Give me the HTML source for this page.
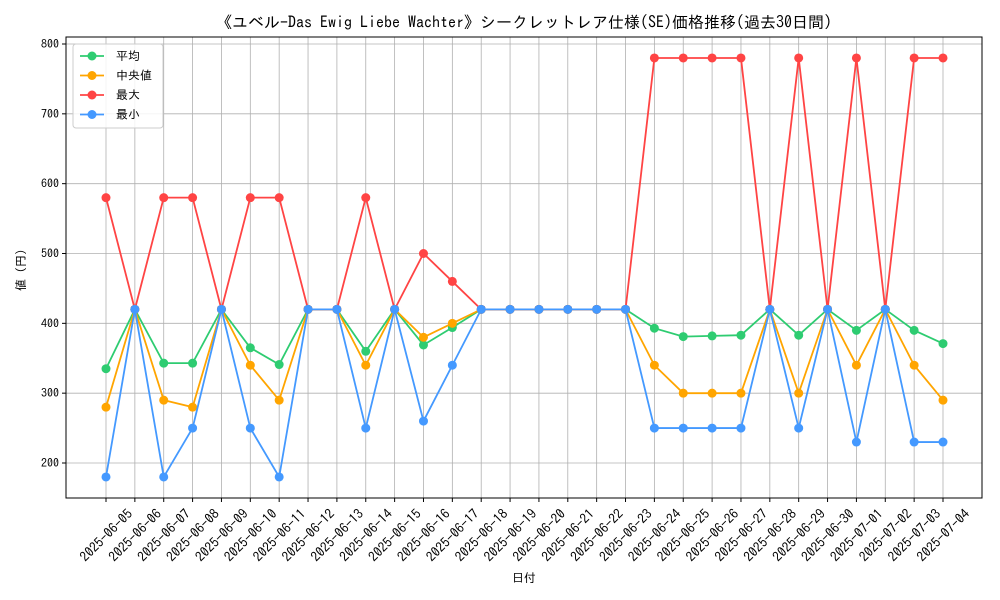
<!DOCTYPE html>
<html><head><meta charset="utf-8">
<style>
body{margin:0;background:#fff;}
svg{display:block;font-family:"IPAGothic","Noto Sans CJK JP","DejaVu Sans Mono",monospace;}
</style></head>
<body>
<svg id="chart" width="1000" height="600" viewBox="0 0 1000 600">
<text x="524" y="28" text-anchor="middle" font-size="16" fill="#000">《ユベル-Das Ewig Liebe Wachter》シークレットレア仕様(SE)価格推移(過去30日間)</text>
<g id="grid"></g>
<g id="axes"></g>
<g id="series"></g>
<text x="524" y="582" text-anchor="middle" font-size="12">日付</text>
<text transform="translate(25,270) rotate(-90)" text-anchor="middle" font-size="12">値 (円)</text>
<g id="legend"></g>
</svg>
<script>
const dates=["2025-06-05","2025-06-06","2025-06-07","2025-06-08","2025-06-09","2025-06-10","2025-06-11","2025-06-12","2025-06-13","2025-06-14","2025-06-15","2025-06-16","2025-06-17","2025-06-18","2025-06-19","2025-06-20","2025-06-21","2025-06-22","2025-06-23","2025-06-24","2025-06-25","2025-06-26","2025-06-27","2025-06-28","2025-06-29","2025-06-30","2025-07-01","2025-07-02","2025-07-03","2025-07-04"];
const meanVals=[335,420,343,343,420,365,341,420,420,360,420,369,394,420,420,420,420,420,420,393,381,382,383,420,383,420,390,420,390,371];
const medianVals=[280,420,290,280,420,340,290,420,420,340,420,380,400,420,420,420,420,420,420,340,300,300,300,420,300,420,340,420,340,290];
const maxVals=[580,420,580,580,420,580,580,420,420,580,420,500,460,420,420,420,420,420,420,780,780,780,780,420,780,420,780,420,780,780];
const minVals=[180,420,180,250,420,250,180,420,420,250,420,260,340,420,420,420,420,420,420,250,250,250,250,420,250,420,230,420,230,230];
const yTicks=[200,300,400,500,600,700,800];
const seriesNames=["平均","中央値","最大","最小"];
const colors=["#2ecc71","#ffa500","#ff4444","#4499ff"];

const NS="http://www.w3.org/2000/svg";
const L=66,R=982,T=37,B=498;
const x=i=>106+i*(943-106)/(dates.length-1);
const y=v=>463-(v-200)*(463-44)/600;
function mk(tag,attrs,parent){const e=document.createElementNS(NS,tag);for(const k in attrs)e.setAttribute(k,attrs[k]);parent.appendChild(e);return e;}
const grid=document.getElementById('grid'),axes=document.getElementById('axes'),ser=document.getElementById('series'),leg=document.getElementById('legend');
yTicks.forEach(t=>{
  const g=mk('line',{x1:L,x2:R,y1:y(t),y2:y(t),stroke:'#b0b0b0','stroke-width':0.8},grid);
  
  
  mk('line',{x1:L-4,x2:L,y1:y(t),y2:y(t),stroke:'#000'},axes);
  const tx=mk('text',{x:L-7,y:y(t)+4,'text-anchor':'end','font-size':12},axes);
  tx.textContent=t;
  
  
});
dates.forEach((d,i)=>{
  const g=mk('line',{x1:x(i),x2:x(i),y1:T,y2:B,stroke:'#b0b0b0','stroke-width':0.8},grid);
  
  
  mk('line',{x1:x(i),x2:x(i),y1:B,y2:B+4,stroke:'#000'},axes);
  const tx=mk('text',{transform:`translate(${x(i)},${B+37}) rotate(-45)`,'text-anchor':'middle','dominant-baseline':'central','font-size':13.5},axes);
  tx.textContent=d;
  
  
});
const fr=mk('rect',{x:L,y:T,width:R-L,height:B-T,fill:'none',stroke:'#000','stroke-width':1},axes);


const all=[meanVals,medianVals,maxVals,minVals];
const keys=['mean','median','max','min'];
all.forEach((vals,s)=>{
  const g=mk('g',{},ser);
  
  
  const p=mk('polyline',{points:vals.map((v,i)=>x(i)+','+y(v)).join(' '),fill:'none',stroke:colors[s],'stroke-width':1.8},g);
  
  
  vals.forEach((v,i)=>{
    const c=mk('circle',{cx:x(i),cy:y(v),r:4.5,fill:colors[s]},g);
    
    
  });
});
const lb=mk('rect',{x:73,y:44,width:90,height:84,rx:3,fill:'#fff','fill-opacity':0.85,stroke:'#ccc'},leg);


seriesNames.forEach((n,s)=>{
  const g=mk('g',{},leg);
  
  
  const yy=56+s*19.5;
  mk('line',{x1:80,x2:104,y1:yy,y2:yy,stroke:colors[s],'stroke-width':1.8},g);
  mk('circle',{cx:92,cy:yy,r:4.5,fill:colors[s]},g);
  const t=mk('text',{x:116,y:yy+4,'font-size':12},g);
  t.textContent=n;
});
</script>
</body></html>
